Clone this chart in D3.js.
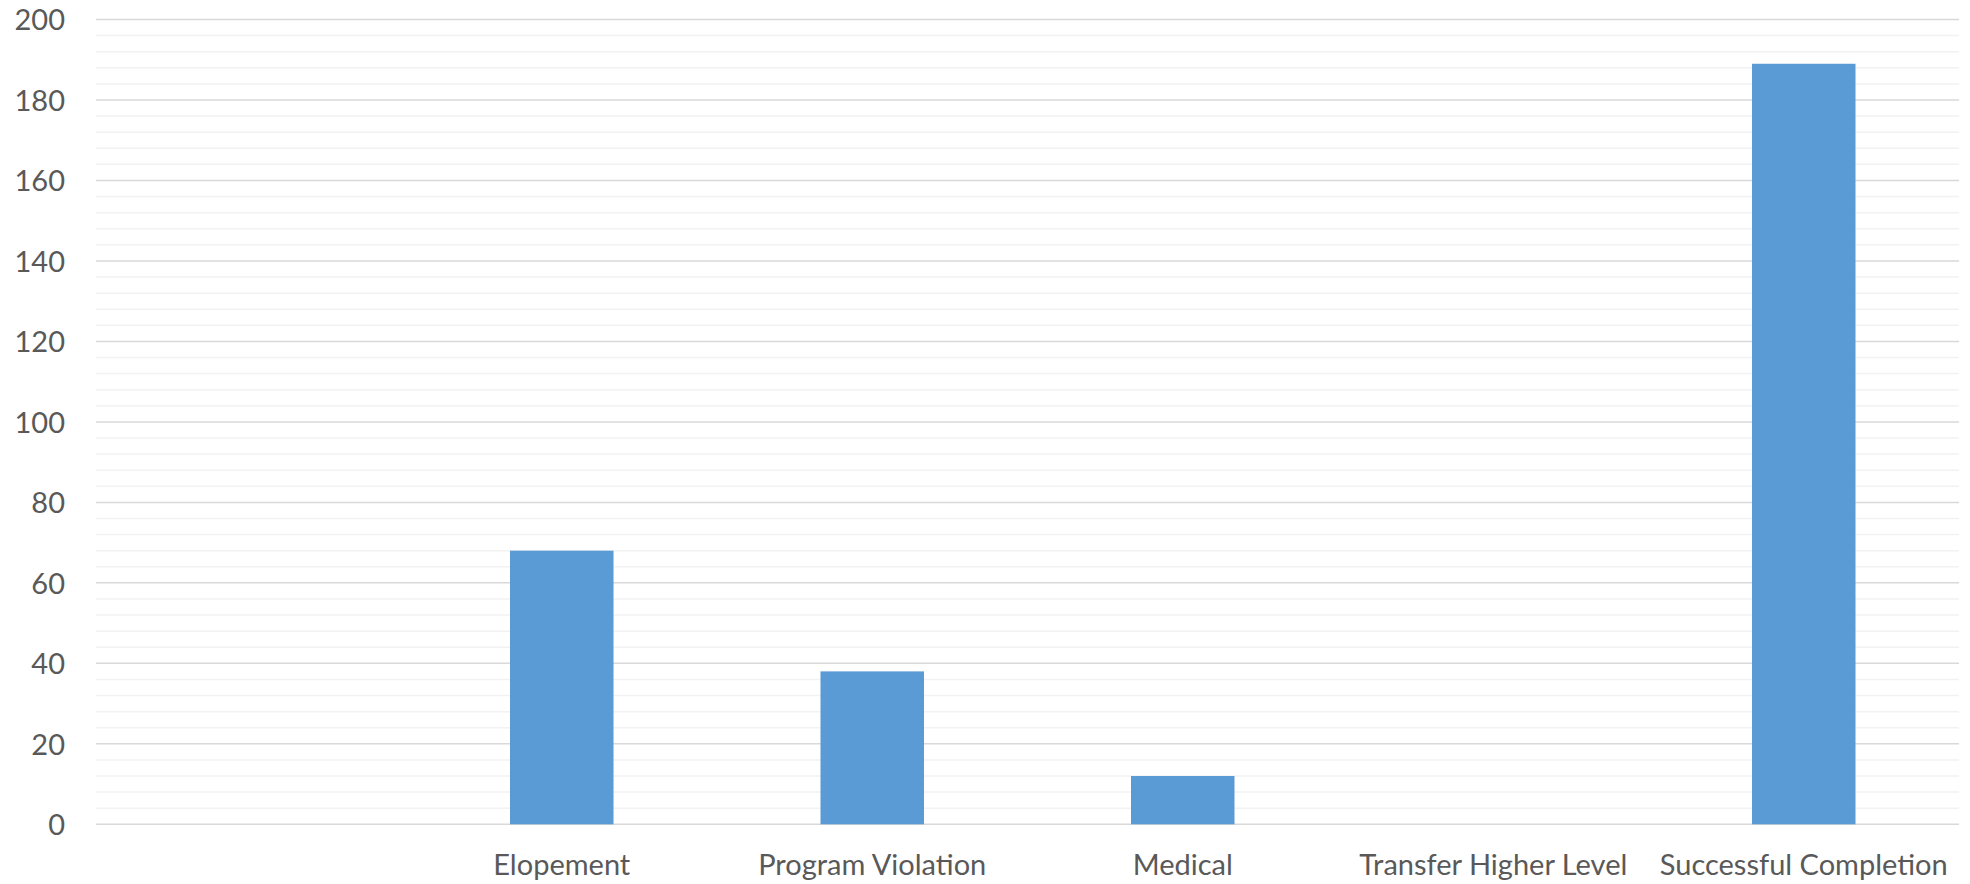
<!DOCTYPE html>
<html>
    <head>
        <title>Discharge Reasons</title>
        <script src="https://d3js.org/d3.v7.min.js"></script>
    </head>
    <body style="margin:0; background:#fff;">

        <style type="text/css">
            .bar {
                fill: #5b9bd5;
            }
            .grid-major line {
                stroke: #d9d9d9;
                stroke-width: 1.5;
            }
            .grid-minor line {
                stroke: #f2f2f2;
                stroke-width: 1.5;
            }
            .axis text {
                font-family: Lato, "Open Sans", sans-serif;
                font-size: 29px;
                fill: #595959;
            }
            .axis path, .axis line {
                display: none;
            }
        </style>

        <script>
            // data
            var categories = ["", "Elopement", "Program Violation", "Medical", "Transfer Higher Level", "Successful Completion"];
            var counts = [0, 68, 38, 12, 0, 189];
            var yMajorTicks = [0, 20, 40, 60, 80, 100, 120, 140, 160, 180, 200];
            var yMinorTicks = d3.range(0, 201, 4);

            var svgWidth = 1970, svgHeight = 884,
                margin = {top: 19.5, right: 11, bottom: 59.7, left: 96},
                width = svgWidth - margin.left - margin.right,
                height = svgHeight - margin.top - margin.bottom;

            var xScale = d3.scaleBand()
                            .domain(categories)
                            .range([0, width])
                            .paddingInner(2/3)
                            .paddingOuter(1/3);

            var yScale = d3.scaleLinear()
                            .domain([0, 200])
                            .range([height, 0]);

            var svg = d3.select("body").append("svg")
                            .attr("width", svgWidth)
                            .attr("height", svgHeight)
                            .append("g")
                                .attr("transform", "translate(" + margin.left + "," + margin.top + ")");

            // minor gridlines first, major ones over them
            svg.append("g")
                .attr("class", "grid-minor")
                .selectAll("line")
                .data(yMinorTicks.filter(d => d % 20 !== 0)).enter().append("line")
                .attr("x1", 0).attr("x2", width)
                .attr("y1", d => yScale(d)).attr("y2", d => yScale(d));

            svg.append("g")
                .attr("class", "grid-major")
                .selectAll("line")
                .data(yMajorTicks).enter().append("line")
                .attr("x1", 0).attr("x2", width)
                .attr("y1", d => yScale(d)).attr("y2", d => yScale(d));

            svg.selectAll(".bar")
                .data(counts).enter().append("rect")
                .attr("class", "bar")
                .attr("x", (d, i) => xScale(categories[i]))
                .attr("width", xScale.bandwidth())
                .attr("y", d => yScale(d))
                .attr("height", d => height - yScale(d));

            var yAxis = svg.append("g")
                .attr("class", "y axis")
                .call(d3.axisLeft(yScale).tickValues(yMajorTicks).tickSize(0).tickPadding(31));
            yAxis.selectAll("text").attr("dy", "0.36em");

            var xAxis = svg.append("g")
                .attr("class", "x axis")
                .attr("transform", "translate(0," + height + ")")
                .call(d3.axisBottom(xScale).tickSize(0).tickPadding(0));
            xAxis.selectAll("text").attr("dy", null).attr("y", 51);
        </script>
    </body>
</html>
